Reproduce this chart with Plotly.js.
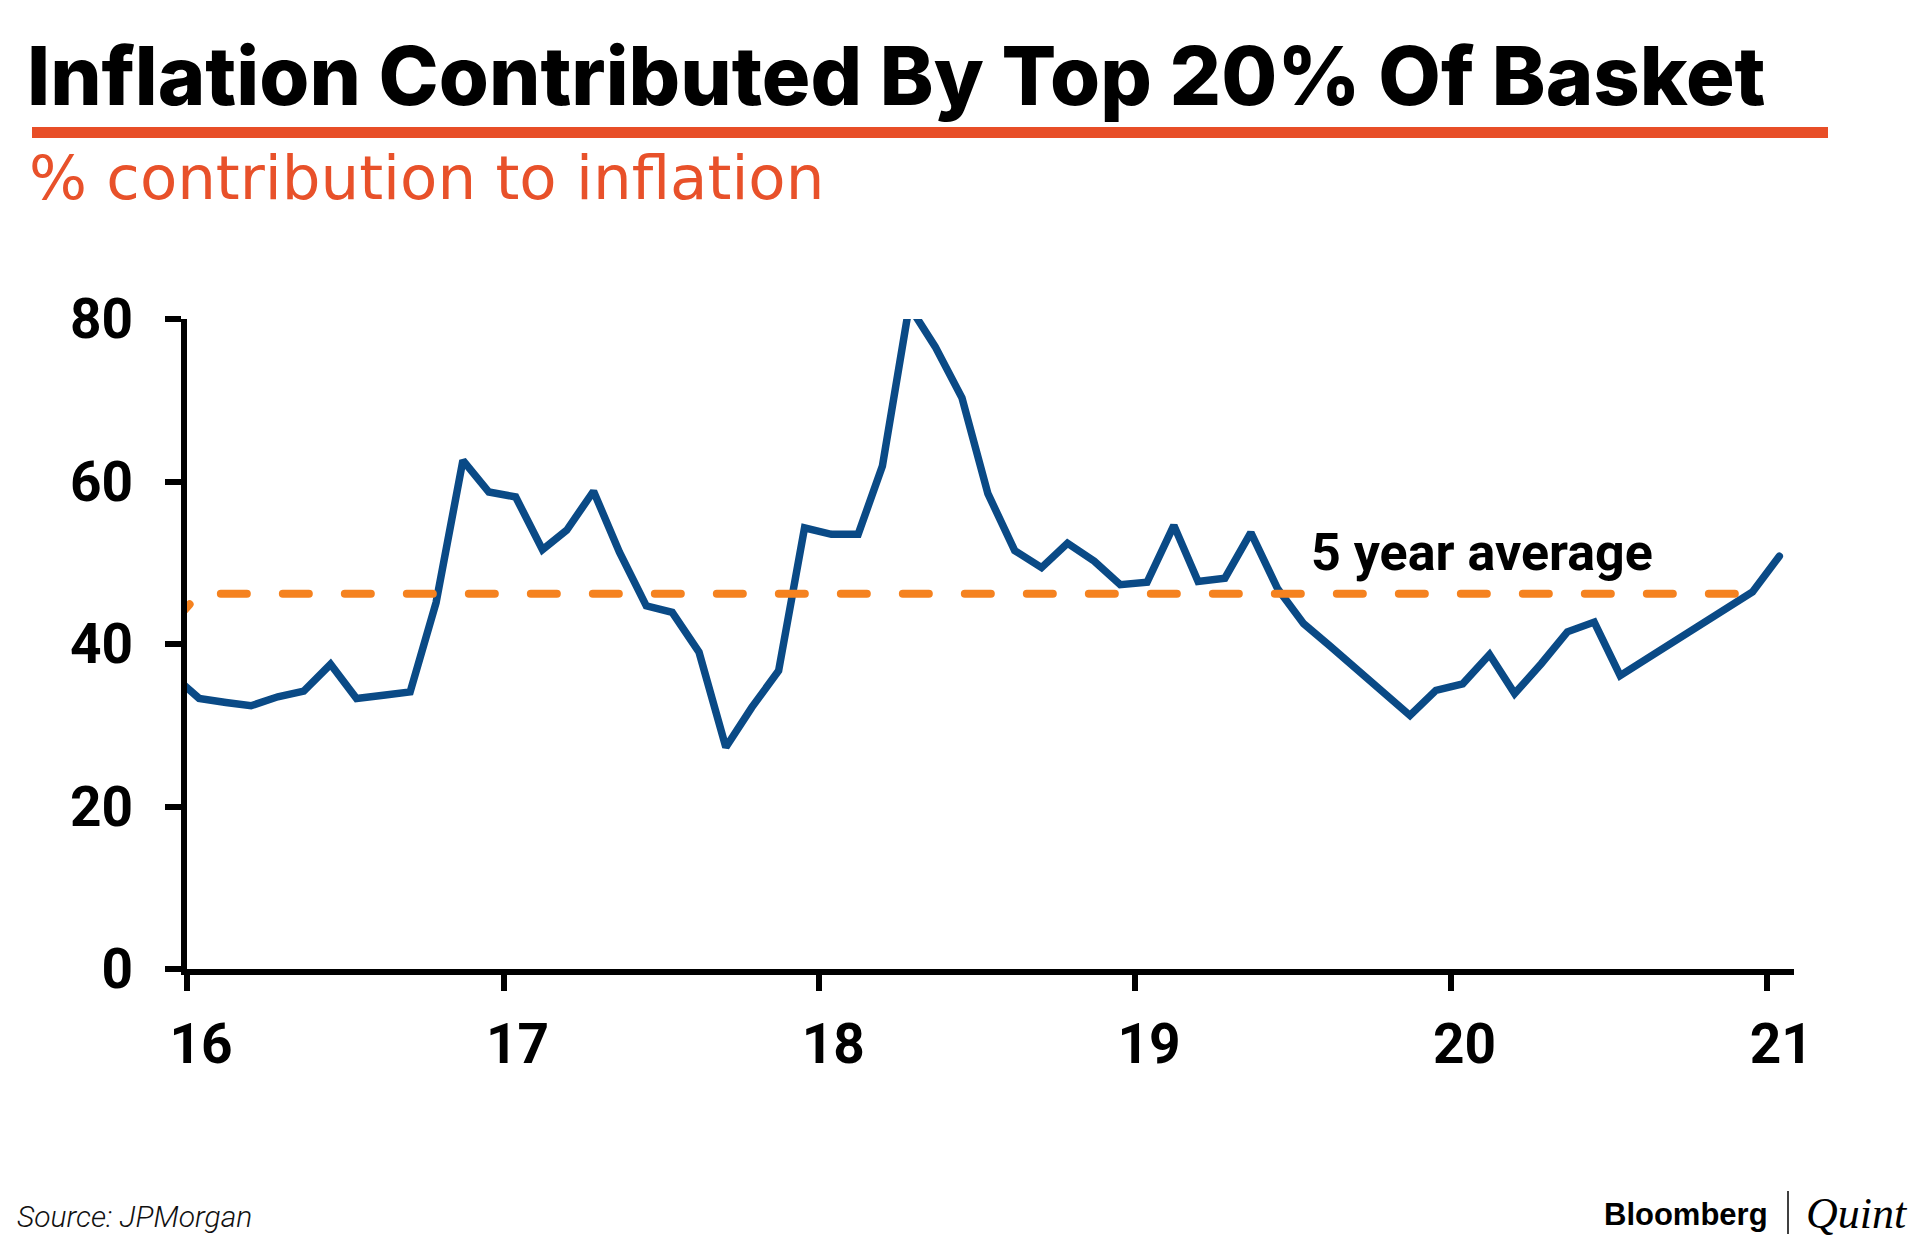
<!DOCTYPE html>
<html>
<head>
<meta charset="utf-8">
<script src="https://cdn.plot.ly/plotly-3.0.1.min.js"></script>
<style>
  html, body { margin: 0; padding: 0; background: #ffffff; }
  #chart { width: 1920px; height: 1248px; }
</style>
</head>
<body>
<div id="chart"></div>
<script>
// ---- data ----
const months = [
  "2015-12",
  "2016-01","2016-02","2016-03","2016-04","2016-05","2016-06","2016-07","2016-08","2016-09","2016-10","2016-11","2016-12",
  "2017-01","2017-02","2017-03","2017-04","2017-05","2017-06","2017-07","2017-08","2017-09","2017-10","2017-11","2017-12",
  "2018-01","2018-02","2018-03","2018-04","2018-05","2018-06","2018-07","2018-08","2018-09","2018-10","2018-11","2018-12",
  "2019-01","2019-02","2019-03","2019-04","2019-05","2019-06","2019-07","2019-08","2019-09","2019-10","2019-11","2019-12",
  "2020-01","2020-02","2020-03","2020-04","2020-05","2020-06","2020-07","2020-08","2020-09","2020-10","2020-11","2020-12",
  "2021-01"
];
const top20Share = [
  36.2,
  33.3, 32.8, 32.4, 33.5, 34.2, 37.5, 33.3, 33.7, 34.1, 45.1, 62.6, 58.7,
  58.1, 51.6, 54.0, 58.8, 51.3, 44.7, 43.9, 39.0, 27.3, 32.2, 36.7, 54.3,
  53.5, 53.5, 61.9, 81.6, 76.6, 70.3, 58.5, 51.5, 49.4, 52.4, 50.2, 47.3,
  47.6, 54.6, 47.7, 48.1, 53.7, 46.8, 42.5, 39.7, 36.9, 34.1, 31.2, 34.3,
  35.1, 38.7, 33.9, 37.6, 41.5, 42.7, 36.1, 38.2, 40.3, 42.4, 44.5, 46.4,
  50.8
];
const avgMonths = ["2015-12", "2016-01", "2020-12"];
const avgValues = [42.5, 46.2, 46.2];

const tickYears = ["2016", "2017", "2018", "2019", "2020", "2021"];
const tickLabels = ["16", "17", "18", "19", "20", "21"];
const yTicks = [0, 20, 40, 60, 80];

const titleText = "Inflation Contributed By Top 20% Of Basket";
const subtitleText = "% contribution to inflation";
const avgLabel = "5 year average";
const sourceText = "Source: JPMorgan";

// ---- geometry helpers (pixels -> paper) ----
const L = 187, T = 319, R = 126, B = 279;
const W = 1920 - L - R, H = 1248 - T - B;
const xp = px => (px - L) / W;
const yp = py => (T + H - py) / H;

const tickFamily = "Roboto, sans-serif";
const mid = m => m + "-15";

const traces = [
  {
    x: months.map(mid), y: top20Share, type: "scatter", mode: "lines",
    line: { color: "#0a4a86", width: 7.5, shape: "linear" },
    hoverinfo: "skip", showlegend: false
  },
  {
    x: avgMonths.map(mid), y: avgValues, type: "scatter", mode: "lines",
    line: { color: "#f5821f", width: 8, dash: "26px,36px" },
    hoverinfo: "skip", showlegend: false
  }
];

const layout = {
  width: 1920, height: 1248,
  paper_bgcolor: "#ffffff", plot_bgcolor: "#ffffff",
  margin: { l: L, r: R, t: T, b: B, pad: 0 },
  showlegend: false,
  xaxis: {
    type: "date",
    range: ["2016-01-01", "2021-02-01"],
    tickmode: "array",
    tickvals: tickYears.map(y => y + "-01-01"),
    ticktext: tickLabels,
    showgrid: false, zeroline: false,
    showline: true, linecolor: "#000000", linewidth: 6,
    ticks: "outside", ticklen: 16, tickwidth: 6, tickcolor: "#000000",
    ticklabelshift: 14, ticklabelstandoff: 6,
    tickfont: { family: tickFamily, size: 55, color: "#000000", weight: "bold" },
    fixedrange: true
  },
  yaxis: {
    range: [0, 80],
    tickmode: "array", tickvals: yTicks, ticktext: yTicks.map(String),
    showgrid: false, zeroline: false,
    showline: true, linecolor: "#000000", linewidth: 6,
    ticks: "outside", ticklen: 16, tickwidth: 6, tickcolor: "#000000",
    ticklabelstandoff: 21,
    tickfont: { family: tickFamily, size: 55, color: "#000000", weight: "bold" },
    fixedrange: true
  },
  shapes: [
    { type: "rect", xref: "paper", yref: "paper",
      x0: xp(32), x1: xp(1828), y0: yp(138), y1: yp(127),
      fillcolor: "#e84e27", line: { width: 0 }, layer: "above" },
    { type: "line", xref: "paper", yref: "paper",
      x0: xp(1788), x1: xp(1788), y0: yp(1234), y1: yp(1191),
      line: { color: "#000000", width: 1.5 } }
  ],
  annotations: [
    { text: titleText, xref: "paper", yref: "paper", x: xp(25), y: yp(76),
      xanchor: "left", yanchor: "middle", showarrow: false,
      font: { family: "Inter, sans-serif", size: 81, color: "#000000", weight: 800 } },
    { text: subtitleText, xref: "paper", yref: "paper", x: xp(27), y: yp(178),
      xanchor: "left", yanchor: "middle", showarrow: false,
      font: { family: "DejaVu Sans, sans-serif", size: 61, color: "#e8512a" } },
    { text: avgLabel, xref: "paper", yref: "paper", x: xp(1309), y: yp(552),
      xanchor: "left", yanchor: "middle", showarrow: false,
      font: { family: tickFamily, size: 52, color: "#000000", weight: "bold" } },
    { text: sourceText, xref: "paper", yref: "paper", x: xp(15), y: yp(1216),
      xanchor: "left", yanchor: "middle", showarrow: false,
      font: { family: "Roboto, sans-serif", size: 30, color: "#111111", style: "italic", weight: 300 } },
    { text: "Bloomberg", xref: "paper", yref: "paper", x: xp(1770), y: yp(1214),
      xanchor: "right", yanchor: "middle", showarrow: false,
      font: { family: "Liberation Sans, Arial, sans-serif", size: 31, color: "#000000", weight: "bold" } },
    { text: "Quint", xref: "paper", yref: "paper", x: xp(1804), y: yp(1213),
      xanchor: "left", yanchor: "middle", showarrow: false,
      font: { family: "Liberation Serif, serif", size: 44, color: "#000000", style: "italic" } }
  ]
};

Plotly.newPlot("chart", traces, layout, { staticPlot: true, displayModeBar: false }).then(() => {
  document.querySelectorAll(".scatterlayer .trace path.js-line").forEach((p, i) => {
    p.style.strokeLinecap = "round";
    p.style.strokeLinejoin = i === 0 ? "miter" : "round";
  });
});
</script>
</body>
</html>
